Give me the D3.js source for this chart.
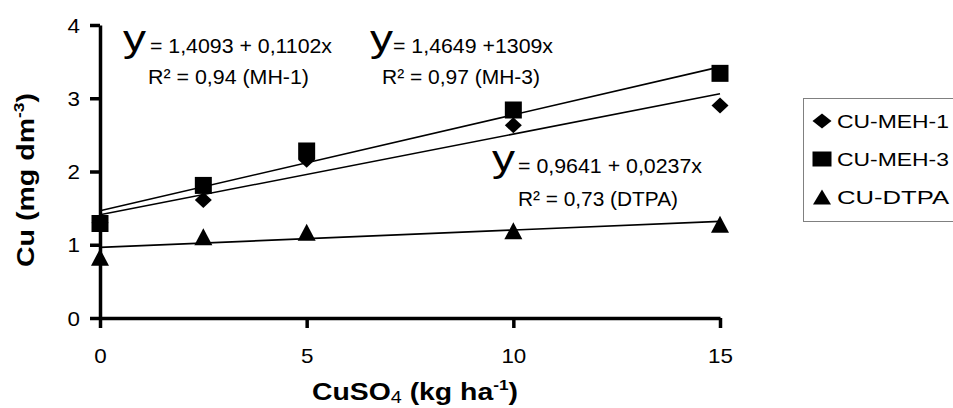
<!DOCTYPE html>
<html><head><meta charset="utf-8">
<script src="https://cdn.jsdelivr.net/npm/d3@7/dist/d3.min.js"></script>
<style>
body{margin:0;background:#fff;}
text{font-family:"Liberation Sans",Arial,sans-serif;fill:#000;}
</style></head>
<body><svg id="c" width="953" height="408"></svg>
<script>
// ---- data ----
const doses = [0, 2.5, 5, 10, 15];
const meh1 = [1.30, 1.61, 2.16, 2.63, 2.90];
const meh3 = [1.29, 1.81, 2.28, 2.84, 3.34];
const dtpa = [0.83, 1.11, 1.17, 1.19, 1.28];
const seriesNames = ["CU-MEH-1", "CU-MEH-3", "CU-DTPA"];
const intercepts = [1.4093, 1.4649, 0.9641];
const slopes = [0.1102, 0.1309, 0.0237];
const eqTexts = ["= 1,4093 + 0,1102x", "= 1,4649 +1309x", "= 0,9641 + 0,0237x"];
const r2Texts = ["R\u00B2 = 0,94 (MH-1)", "R\u00B2 = 0,97 (MH-3)", "R\u00B2 = 0,73 (DTPA)"];
const xTicks = [0, 5, 10, 15];
const yTicks = [0, 1, 2, 3, 4];

const svg = d3.select("#c");
const x = d3.scaleLinear().domain([0, 15]).range([100, 720]);
const y = d3.scaleLinear().domain([0, 4]).range([318, 25]);

// trend lines
const line = d3.line().x(d => x(d[0])).y(d => y(d[1]));
intercepts.forEach((a, i) => {
  svg.append("path")
    .attr("d", line([[0, a], [15, a + slopes[i] * 15]]))
    .attr("fill", "none").attr("stroke", "#000").attr("stroke-width", 1.6);
});

// markers
function diamond(cx, cy, w, h) { return `M${cx},${cy-h/2}L${cx+w/2},${cy}L${cx},${cy+h/2}L${cx-w/2},${cy}Z`; }
function square(cx, cy, w, h) { return `M${cx-w/2},${cy-h/2}h${w}v${h}h${-w}Z`; }
function tri(cx, cy, w, h) { return `M${cx},${cy-h/2}L${cx+w/2},${cy+h/2}L${cx-w/2},${cy+h/2}Z`; }
const shapes = [diamond, square, tri];
const sizes = [[17, 16], [17, 17], [18, 17]];
const allSeries = [meh1, meh3, dtpa];
[2, 0, 1].forEach(si => {
  svg.append("g").selectAll("path").data(allSeries[si]).join("path")
    .attr("d", (v, j) => shapes[si](x(doses[j]), y(v), sizes[si][0], sizes[si][1]))
    .attr("fill", "#000");
});

// axes
const gy = svg.append("g").attr("transform", "translate(100,0)")
  .call(d3.axisLeft(y).tickValues(yTicks).tickSize(10).tickSizeOuter(0).tickFormat(d3.format("d")));
const gx = svg.append("g").attr("transform", "translate(0,318)")
  .call(d3.axisBottom(x).tickValues(xTicks).tickSize(10).tickSizeOuter(0).tickFormat(d3.format("d")));
[gx, gy].forEach(g => {
  g.select(".domain").attr("stroke-width", 3.5).attr("stroke", "#000");
  g.selectAll(".tick line").attr("stroke-width", 3.5).attr("stroke", "#000");
  g.selectAll(".tick text").attr("font-size", 20).attr("font-family", "Liberation Sans, Arial, sans-serif").attr("fill", "#000");
});
gy.selectAll(".tick text").attr("x", 0).attr("dy", "0.36em")
  .attr("transform", "translate(-20,0) scale(1.12,1)");
gx.selectAll(".tick text").attr("y", 0).attr("dy", 0)
  .attr("transform", "translate(0,45) scale(1.12,1)");

// equations
const eqPos = [
  {yx: 123, yb: 51, ex: 150, eb: 53, el: 182, rx: 148, rb: 84, rl: 161},
  {yx: 370, yb: 51, ex: 393, eb: 53, el: 160, rx: 382, rb: 84, rl: 158},
  {yx: 492, yb: 171, ex: 518, eb: 173, el: 184, rx: 518, rb: 206, rl: 160}
];
eqPos.forEach((p, i) => {
  svg.append("text").attr("x", p.yx).attr("y", p.yb).attr("font-size", 36)
    .attr("textLength", 23).attr("lengthAdjust", "spacingAndGlyphs").text("y");
  svg.append("text").attr("x", p.ex).attr("y", p.eb).attr("font-size", 20)
    .attr("textLength", p.el).attr("lengthAdjust", "spacingAndGlyphs").text(eqTexts[i]);
  svg.append("text").attr("x", p.rx).attr("y", p.rb).attr("font-size", 20)
    .attr("textLength", p.rl).attr("lengthAdjust", "spacingAndGlyphs").text(r2Texts[i]);
});

// axis titles
const xt = svg.append("text").attr("x", 312).attr("y", 400).attr("font-size", 23).attr("font-weight", "bold")
  .attr("textLength", 206).attr("lengthAdjust", "spacingAndGlyphs");
xt.append("tspan").text("CuSO");
xt.append("tspan").attr("font-size", 16).attr("font-weight", "normal").attr("dy", 3).text("4");
xt.append("tspan").attr("dy", -3).text(" (kg ha");
xt.append("tspan").attr("font-size", 14).attr("dy", -10).text("-1");
xt.append("tspan").attr("dy", 10).text(")");

const yt = svg.append("text").attr("transform", "translate(34,267) rotate(-90)").attr("font-size", 23)
  .attr("font-weight", "bold").attr("textLength", 174).attr("lengthAdjust", "spacingAndGlyphs");
yt.append("tspan").text("Cu (mg dm");
yt.append("tspan").attr("font-size", 14).attr("dy", -10).text("-3");
yt.append("tspan").attr("dy", 10).text(")");

// legend
svg.append("rect").attr("x", 803.5).attr("y", 98.5).attr("width", 160).attr("height", 123)
  .attr("fill", "none").attr("stroke", "#808080").attr("stroke-width", 1);
const legSizes = [[19, 15], [19, 15], [18, 15]];
const lg = svg.append("g").selectAll("g").data(seriesNames).join("g")
  .attr("transform", (d, i) => `translate(0,${128 + i * 38})`);
lg.append("path").attr("d", (d, i) => shapes[i](822, -7, legSizes[i][0], legSizes[i][1])).attr("fill", "#000");
lg.append("text").attr("x", 837).attr("y", 0).attr("font-size", 19)
  .attr("textLength", 112).attr("lengthAdjust", "spacingAndGlyphs").text(d => d);
</script></body></html>
